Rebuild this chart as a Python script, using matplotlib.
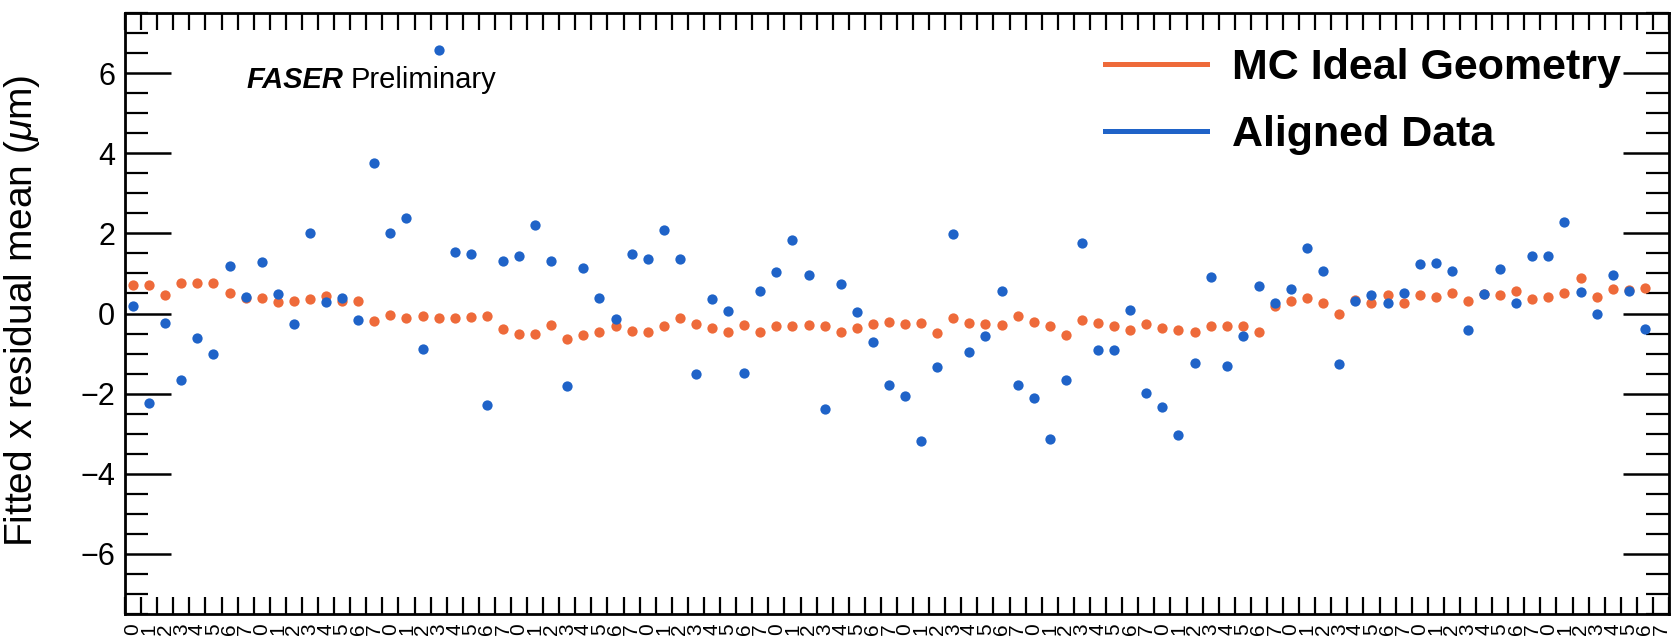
import matplotlib
matplotlib.use("Agg")
import matplotlib.pyplot as plt
from matplotlib.lines import Line2D
from matplotlib.ticker import MultipleLocator, FixedLocator, NullFormatter
import numpy as np

plt.rcParams['font.family'] = ['Liberation Sans', 'DejaVu Sans']
plt.rcParams['mathtext.fontset'] = 'custom'
plt.rcParams['mathtext.rm'] = 'Liberation Sans'
plt.rcParams['mathtext.it'] = 'Liberation Sans:italic'

# ---- data ----
module_labels = [str(k % 8) for k in range(96)]

mc_ideal = [0.70, 0.70, 0.47, 0.75, 0.75, 0.75, 0.51, 0.39, 0.39, 0.28, 0.31, 0.36, 0.44, 0.32, 0.32, -0.19,
            -0.04, -0.11, -0.07, -0.12, -0.12, -0.09, -0.07, -0.39, -0.51, -0.51, -0.28, -0.63, -0.53, -0.46, -0.32, -0.44,
            -0.45, -0.32, -0.12, -0.27, -0.36, -0.45, -0.28, -0.46, -0.31, -0.31, -0.29, -0.32, -0.45, -0.36, -0.27,
            -0.22, -0.27, -0.24, -0.49, -0.12, -0.24, -0.27, -0.29, -0.05, -0.20, -0.32, -0.53, -0.17, -0.24, -0.32, -0.42,
            -0.26, -0.37, -0.42, -0.45, -0.31, -0.31, -0.32, -0.46, 0.19, 0.32, 0.39, 0.26, -0.02, 0.34, 0.26,
            0.45, 0.27, 0.46, 0.41, 0.52, 0.30, 0.49, 0.47, 0.56, 0.37, 0.41, 0.51, 0.88, 0.42, 0.62, 0.58, 0.64]

aligned_data = [0.19, -2.23, -0.23, -1.65, -0.61, -1.02, 1.19, 0.41, 1.29, 0.49, -0.27, 2.01, 0.28, 0.39, -0.15, 3.76,
                2.01, 2.38, -0.88, 6.58, 1.54, 1.48, -2.29, 1.31, 1.43, 2.22, 1.30, -1.82, 1.14, 0.39, -0.13, 1.48,
                1.37, 2.08, 1.36, -1.51, 0.35, 0.06, -1.48, 0.56, 1.04, 1.84, 0.95, -2.39, 0.74, 0.04, -0.72,
                -1.79, -2.06, -3.18, -1.33, 1.98, -0.96, -0.55, 0.57, -1.79, -2.11, -3.12, -1.65, 1.77, -0.90, -0.90, 0.09,
                -1.98, -2.34, -3.04, -1.24, 0.90, -1.32, -0.55, 0.69, 0.27, 0.61, 1.64, 1.07, -1.27, 0.31, 0.45,
                0.27, 0.51, 1.23, 1.26, 1.06, -0.42, 0.49, 1.11, 0.25, 1.43, 1.43, 2.29, 0.53, -0.02, 0.95, 0.57, -0.38]

orange = '#EE6A3A'
blue = '#1F63C8'

W, H = 1675, 636
fig = plt.figure(figsize=(W / 100, H / 100), dpi=100)
ax = fig.add_axes([125 / W, 1 - 614 / H, (1669 - 125) / W, (614 - 13) / H])

x_mc = np.arange(len(mc_ideal)) + 0.5
x_al = np.arange(len(aligned_data)) + 0.5
ax.plot(x_mc, mc_ideal, 'o', color=orange, ms=7.4, mew=0, zorder=3)
ax.plot(x_al, aligned_data, 'o', color=blue, ms=7.4, mew=0, zorder=4)

nb = len(module_labels)
ax.set_xlim(0, nb)
ax.set_ylim(-7.5, 7.5)

# x: ticks at bin edges, labels at bin centres
ax.xaxis.set_major_locator(FixedLocator(np.arange(0, nb + 1)))
ax.xaxis.set_major_formatter(NullFormatter())
ax.set_xticks(np.arange(nb) + 0.5, module_labels, minor=True)
ax.tick_params(axis='x', which='major', direction='in', length=12, width=1.6,
               top=True, bottom=True)
ax.tick_params(axis='x', which='minor', length=0, pad=7, labelsize=15, labelrotation=90)

# y
ax.yaxis.set_major_locator(MultipleLocator(2))
ax.yaxis.set_minor_locator(MultipleLocator(0.5))
ax.tick_params(axis='y', which='major', direction='in', length=33, width=1.8,
               left=True, right=True, labelsize=22, pad=7)
ax.tick_params(axis='y', which='minor', direction='in', length=16.5, width=1.6,
               left=True, right=True)
ax.set_yticks([-6, -4, -2, 0, 2, 4, 6], ['\u22126', '\u22124', '\u22122', '0', '2', '4', '6'])
for s in ax.spines.values():
    s.set_linewidth(2.0)

ax.set_ylabel(r'Fitted x residual mean ($\mu$m)', fontsize=28)
ax.yaxis.set_label_coords(-0.054, 0.505)

# FASER Preliminary label
ybase = 1 - 88 / H
t1 = fig.text(246 / W, ybase, 'FASER', fontsize=21, fontweight='bold', fontstyle='italic',
              va='baseline', ha='left')
fig.canvas.draw()
bb = t1.get_window_extent()
fig.text((bb.x1 + 8) / W, ybase, 'Preliminary', fontsize=21, va='baseline', ha='left')

# legend
handles = [Line2D([], [], color=orange, lw=3.6), Line2D([], [], color=blue, lw=3.6)]
leg = fig.legend(handles, ['MC Ideal Geometry', 'Aligned Data'], loc='upper left',
                 bbox_to_anchor=(1105 / W, 1 - 48 / H), frameon=False,
                 prop={'size': 31, 'weight': 'bold'}, handlelength=2.37, handletextpad=0.58,
                 labelspacing=0.62, borderpad=0, borderaxespad=0)

fig.savefig('out.png', dpi=100)
